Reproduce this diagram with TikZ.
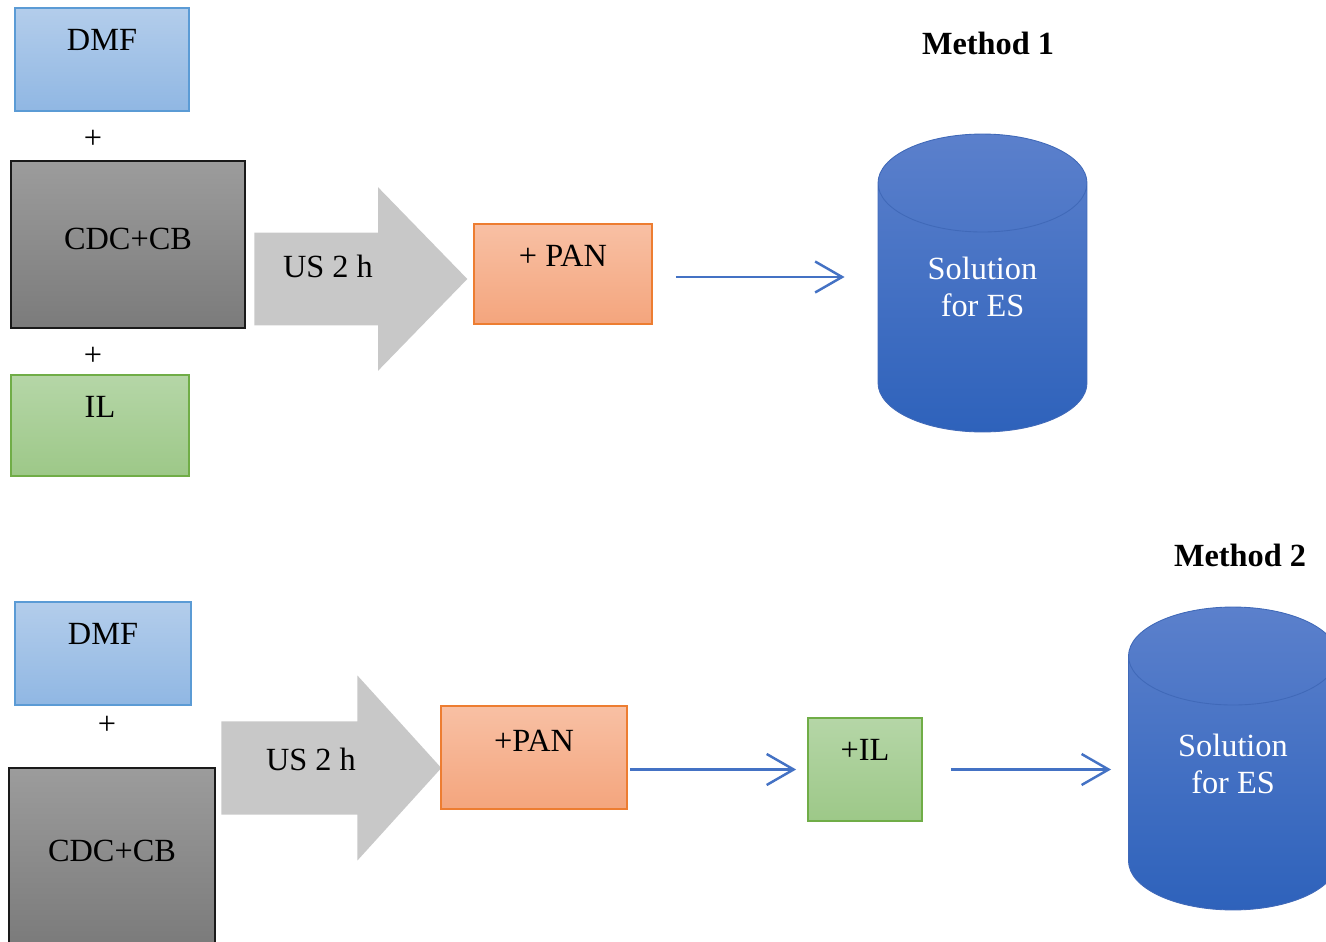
\documentclass[tikz,border=0pt]{standalone}
\usepackage{fontspec}
\setmainfont{Liberation Serif}
\usepackage{xcolor}
\definecolor{BlueTop}{HTML}{B3CDEB}
\definecolor{BlueBot}{HTML}{90B7E3}
\definecolor{BlueLine}{HTML}{5B9BD5}
\definecolor{GrayTop}{HTML}{9C9C9C}
\definecolor{GrayBot}{HTML}{7B7B7B}
\definecolor{GrayLine}{HTML}{1A1A1A}
\definecolor{GreenTop}{HTML}{B5D6A7}
\definecolor{GreenBot}{HTML}{9DC888}
\definecolor{GreenLine}{HTML}{70AD47}
\definecolor{OrangeTop}{HTML}{F8C0A4}
\definecolor{OrangeBot}{HTML}{F4A57D}
\definecolor{OrangeLine}{HTML}{ED7D31}
\definecolor{ArrowGray}{HTML}{C8C8C8}
\definecolor{CylTop}{HTML}{5B80CC}
\definecolor{CylBot}{HTML}{2E62BB}
\definecolor{CylLine}{HTML}{4069B8}
\definecolor{FlowBlue}{HTML}{4472C4}
\usepackage{tikz}
\usetikzlibrary{arrows.meta, positioning, shapes.geometric, shapes.arrows}
\newcommand{\labelsize}{\fontsize{18.4}{21}\selectfont}
\tikzset{
  box/.style 2 args={
    rectangle, minimum width=#1, minimum height=#2,
    inner sep=0pt, line width=1pt
  },
  dmfFill/.style={top color=BlueTop, bottom color=BlueBot, draw=BlueLine},
  cdcFill/.style={top color=GrayTop, bottom color=GrayBot, draw=GrayLine},
  ilFill/.style={top color=GreenTop, bottom color=GreenBot, draw=GreenLine},
  panFill/.style={top color=OrangeTop, bottom color=OrangeBot, draw=OrangeLine},
  boxTxt/.style={anchor=north, inner sep=0pt, yshift=-0.44cm},
  midTxt/.style={anchor=center, inner sep=0pt, yshift=0.11cm},
  cylTxt/.style={anchor=center, inner sep=0pt, text=white, align=center},
  usArrow/.style 2 args={
    single arrow, anchor=tail, fill=ArrowGray,
    minimum height=#1, minimum width=#2,
    single arrow head extend=0.91cm, inner xsep=0pt, inner ysep=0.92cm
  },
  cylNode/.style={
    cylinder, shape border rotate=90, aspect=1, anchor=shape center,
    minimum height=5.96cm, minimum width=4.18cm, inner sep=0.98cm,
    top color=CylTop, bottom color=CylBot, draw=CylLine, line width=0.5pt
  },
  flow/.style={-{Straight Barb[length=0.54cm, width=0.62cm]}, line width=1.4pt, draw=FlowBlue},
}

\begin{document}
\begin{tikzpicture}[x=0.02cm, y=-0.02cm, font=\labelsize]
\clip (0,0) rectangle (1326,942);

% Method 1
\node[font=\labelsize\bfseries] (m1) at (988,43) {Method 1};
\node[box={3.48cm}{2.06cm}, dmfFill, label={[boxTxt]north:DMF}] (dmf1) at (102,59.5) {};
\node (plus1a) at (93,139) {+};
\node[box={4.68cm}{3.34cm}, cdcFill, label={[midTxt]center:CDC+CB}] (cdc1) at (128,244.5) {};
\node (plus1b) at (93,356) {+};
\node[box={3.56cm}{2.02cm}, ilFill, label={[boxTxt]north:IL}] (il1) at (100,425.5) {};
\node[usArrow={4.26cm}{3.66cm}, single arrow tip angle=91.6,
  label={[anchor=center, xshift=1.48cm, yshift=0.26cm]tail:US 2 h}] (us1) at (254,279) {};
\node[box={3.56cm}{2cm}, panFill, label={[boxTxt]north:+ PAN}] (pan1) at (563,274) {};
\node[cylNode] (cyl1) at (982.5,283) {};
\node[cylTxt, yshift=-0.07cm] (es1) at (cyl1.shape center) {Solution\\for ES};
\draw[flow, shorten <=0.46cm, shorten >=0.66cm] ([yshift=-0.06cm]pan1.east) -- ([yshift=-0.06cm]pan1.east -| cyl1.west);

% Method 2
\node[font=\labelsize\bfseries] (m2) at (1240,555) {Method 2};
\node[box={3.52cm}{2.06cm}, dmfFill, label={[boxTxt]north:DMF}] (dmf2) at (103,653.5) {};
\node (plus2) at (107,725) {+};
\node[box={4.12cm}{3.52cm}, cdcFill, label={[midTxt, yshift=-0.01cm]center:CDC+CB}] (cdc2) at (112,856) {};
\node[usArrow={4.4cm}{3.7cm}, single arrow tip angle=95.6,
  label={[anchor=center, xshift=1.8cm, yshift=0.18cm]tail:US 2 h}] (us2) at (221,768) {};
\node[box={3.72cm}{2.06cm}, panFill, label={[boxTxt, yshift=-0.06cm]north:+PAN}] (pan2) at (534,757.5) {};
\node[box={2.28cm}{2.06cm}, ilFill, label={[boxTxt]north:+IL}] (il2) at (865,769.5) {};
\node[cylNode, minimum height=6.06cm] (cyl2) at (1233,758.5) {};
\node[cylTxt, yshift=-0.1cm] (es2) at (cyl2.shape center) {Solution\\for ES};
\draw[flow, shorten <=0.04cm, shorten >=0.22cm] (pan2.east |- il2.west) -- (il2.west);
\draw[flow, shorten <=0.56cm, shorten >=0.34cm] (il2.east) -- (il2.east -| cyl2.west);

\end{tikzpicture}
\end{document}
